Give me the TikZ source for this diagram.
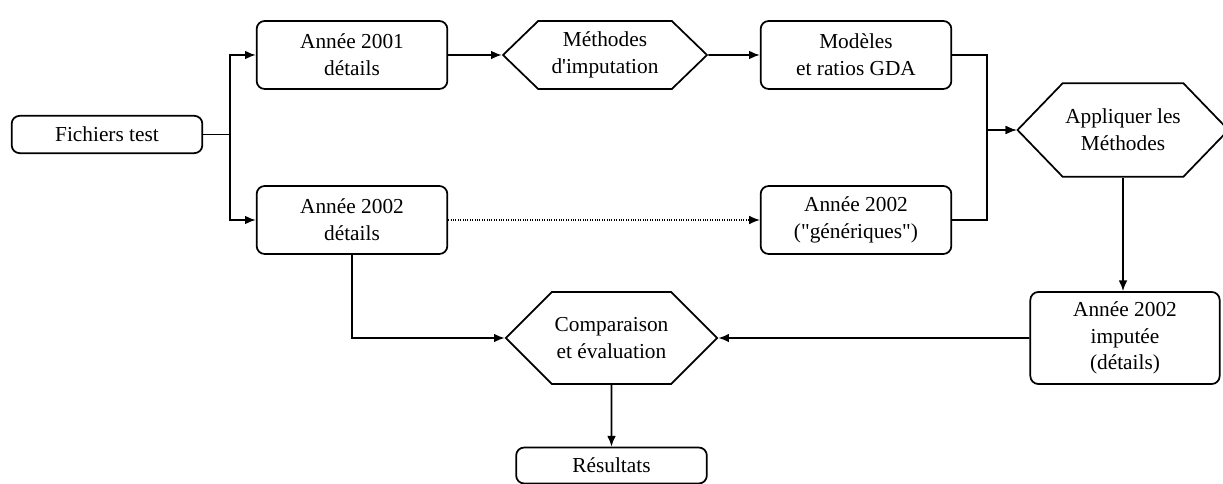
\documentclass[tikz,border=0pt]{standalone}
\usepackage{fontspec}
\setmainfont{Liberation Serif}[Ligatures=TeXOff]
\usetikzlibrary{arrows.meta, shapes.symbols}

\begin{document}
\begin{tikzpicture}[x=0.75pt, y=-0.75pt,
			>={Latex[length=8pt,width=6.5pt]},   %Pfeilspitzen
			font=\fontsize{16}{20}\selectfont,
			box/.style={draw, line width=1.3pt, rounded corners=6pt, align=center,
				minimum width=143pt, minimum height=51pt, inner sep=2pt},
			hexa/.style={draw, line width=1.3pt, signal, signal to=west and east,
				signal pointer angle=#1, align=center, inner sep=2pt},
			link/.style={->, line width=1.3pt}]
			\useasboundingbox (0,0) rectangle (1223,484);
			% Kaesten
			\node[box, minimum height=28pt] (fich) at (107,134.5) {Fichiers test};
			\node[box] (a01) at (352,55) {Année 2001\\détails};
			\node[box] (a02) at (352,220) {Année 2002\\détails};
			\node[hexa=88, minimum width=153pt, minimum height=51pt] (meth) at (605,55) {Méthodes\\d\symbol{39}imputation};
			\node[box] (mod) at (856,55) {Modèles\\et ratios GDA};
			\node[box] (gen) at (856,220) {Année 2002\\(\symbol{34}génériques\symbol{34})};
			\node[hexa=92, minimum width=150pt, minimum height=70pt] (appl) at (1123,130) {Appliquer les\\Méthodes};
			\node[box, minimum width=142pt, minimum height=69pt] (imp) at (1125,338) {Année 2002\\imputée\\(détails)};
			\node[hexa=90, minimum width=155pt, minimum height=69pt] (comp) at (611.5,338) {Comparaison\\et évaluation};
			\node[box, minimum height=27pt] (res) at (611.5,465.5) {Résultats};
			% Verbindungen
			\draw[link] (fich.east) -- ++(27,0) |- (a01.west);
			\draw[link] (fich.east) -- ++(27,0) |- (a02.west);
			\draw[link] (a01) -- (meth);
			\draw[link] (meth) -- (mod);
			\draw[->, densely dotted, line width=0.8pt] (a02) -- (gen);
			\draw[link] (mod.east) -- ++(35,0) |- (appl.west);
			\draw[link] (gen.east) -- ++(35,0) |- (appl.west);
			\draw[link] (appl.south) -- (imp.north -| appl.south);
			\draw[link] (imp) -- (comp);
			\draw[link] (a02.south) |- (comp.west);
			\draw[link] (comp) -- (res);
		\end{tikzpicture}
\end{document}
